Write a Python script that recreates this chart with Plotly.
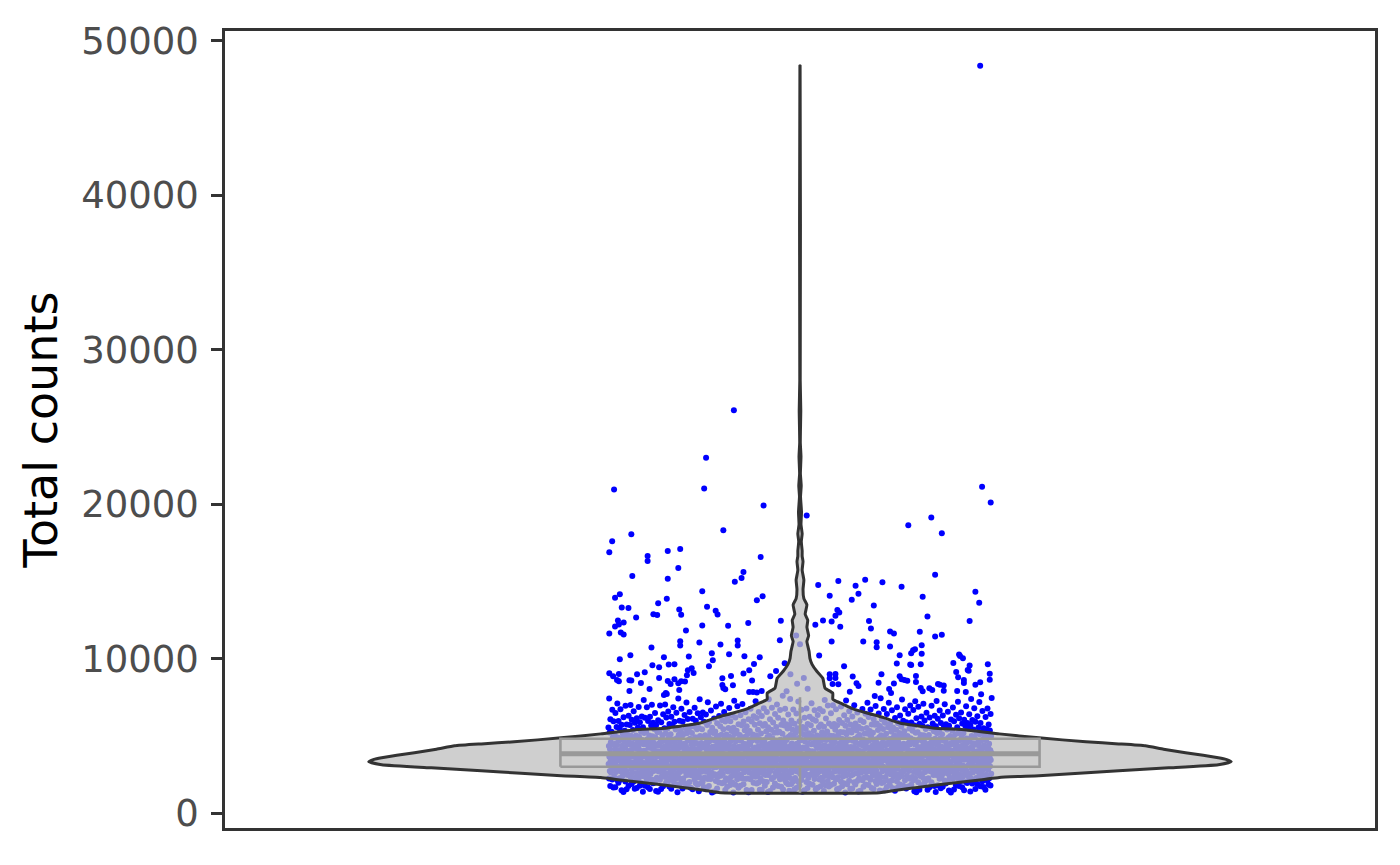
import plotly.graph_objects as go

# ---------------- data ----------------
# y axis
y_tick_vals = [0, 10000, 20000, 30000, 40000, 50000]
y_tick_labels = ["0", "10000", "20000", "30000", "40000", "50000"]
axis_title = "Total counts"

# box-plot summary statistics
box_q1 = 3020
box_median = 3860
box_q3 = 4830
box_lower = 1340
box_upper = 7520

# violin outline: counts level and relative density (peak = 1)
violin_counts = [1340, 1480, 1700, 1930, 2200, 2330, 2445, 2600, 2767, 2950, 3153, 3346, 3500, 3604,
                 3760, 3925, 4150, 4376, 4500, 4633, 4890, 5148, 5405, 5534, 5856, 6200, 6500, 6800,
                 7080, 7300, 7400, 7786, 8110, 8750, 9200, 9650, 10040, 10500, 11133, 11500, 12050,
                 12500, 12900, 13500, 13900, 14500, 15100, 15750, 16300, 16650, 17000, 17600, 18100,
                 18700, 19500, 20500, 21200, 22000, 23100, 24000, 26100, 28000, 48390]
violin_density = [0.185, 0.219, 0.277, 0.346, 0.427, 0.462, 0.554, 0.647, 0.739, 0.855, 0.970, 1.000,
                  0.988, 0.970, 0.935, 0.894, 0.843, 0.801, 0.739, 0.663, 0.554, 0.462, 0.386, 0.307,
                  0.231, 0.194, 0.155, 0.120, 0.099, 0.081, 0.076, 0.076, 0.058, 0.053, 0.039, 0.028,
                  0.023, 0.021, 0.016, 0.020, 0.016, 0.018, 0.012, 0.016, 0.009, 0.007, 0.009, 0.005,
                  0.007, 0.005, 0.005, 0.003, 0.005, 0.0023, 0.0035, 0.0012, 0.0028, 0.0009, 0.0023,
                  0.0007, 0.0018, 0.0005, 0.0002]

# isolated high cells: (horizontal jitter, total counts)
high_points = [
    (0.188, 48390), (-0.069, 26100), (-0.098, 23020), (-0.100, 21030), (0.190, 21150), (0.199, 20130),
    (-0.194, 20960), (-0.038, 19930), (0.007, 19290), (0.113, 18650), (0.137, 19160), (0.148, 18140),
    (-0.080, 18330), (-0.176, 18070), (-0.196, 17620), (-0.199, 16910), (-0.159, 16660), (-0.159, 16340),
    (-0.138, 16980), (-0.125, 17110), (-0.127, 15890), (-0.041, 16590), (-0.138, 15180), (-0.175, 15370),
    (-0.059, 15630), (-0.061, 15240), (-0.068, 14990), (0.141, 15440), (0.106, 14670), (0.068, 15120),
    (0.086, 14960), (0.058, 14730), (0.061, 14220), (0.040, 15050), (0.019, 14790), (0.031, 14090),
    (0.054, 13830), (0.077, 13450), (0.128, 14020), (0.183, 14350), (0.187, 13640), (-0.102, 14380),
    (-0.188, 14190), (-0.193, 13960), (-0.148, 13610), (-0.139, 13900), (-0.186, 13320), (-0.179, 13290),
    (-0.097, 13380), (-0.088, 13120), (-0.086, 12870), (-0.153, 12890), (-0.149, 12840), (-0.171, 12680),
    (-0.126, 13190), (-0.124, 12860), (-0.045, 13800), (-0.039, 14050), (-0.190, 12480), (-0.193, 12100),
    (-0.189, 12230), (-0.184, 12350), (-0.199, 11650), (-0.187, 11710), (-0.184, 11580), (-0.119, 11840),
    (-0.102, 12160), (-0.075, 12140), (-0.054, 12330), (-0.020, 12470), (0.016, 12210), (0.024, 12490),
    (0.033, 12420), (0.037, 12800), (0.039, 13170), (0.041, 13000), (0.042, 12080), (0.072, 12450),
    (0.074, 11970), (0.133, 12740), (0.141, 11450), (0.148, 11560), (0.177, 12460), (0.094, 11780),
    (0.098, 11640), (0.125, 11760), (0.066, 11130), (0.080, 11070), (0.080, 10750), (0.094, 10810),
    (0.104, 10230), (0.116, 10360), (0.118, 10560), (0.120, 10620), (0.127, 10880), (0.127, 10340),
    (0.126, 9660), (0.115, 9640), (0.033, 11120), (0.020, 10220), (-0.021, 11200), (-0.065, 11190),
    (-0.065, 10870), (-0.083, 10940), (-0.074, 10300), (-0.058, 10170), (-0.042, 10100), (-0.092, 10370),
    (-0.105, 11060), (-0.125, 11140), (-0.125, 10860), (-0.116, 10160), (-0.155, 10740), (-0.142, 10110),
    (-0.177, 10240), (-0.188, 9980), (-0.095, 9530), (-0.091, 9910), (-0.113, 9400), (-0.117, 9270),
    (-0.111, 9080), (-0.131, 9650), (-0.137, 9630), (-0.154, 9590), (-0.147, 9460), (-0.170, 9010),
    (-0.162, 9140), (-0.199, 9070), (-0.195, 8880), (-0.189, 9020), (-0.191, 8630), (-0.189, 8560),
    (-0.178, 8620), (-0.176, 8600), (-0.166, 8440), (-0.157, 8050), (-0.178, 7920), (-0.138, 8570),
    (-0.131, 8690), (-0.147, 8760), (-0.135, 8370), (-0.127, 8430), (-0.124, 8550), (-0.120, 8540),
    (-0.126, 7990), (-0.140, 7790), (-0.139, 7730), (-0.142, 7660), (-0.118, 8950), (-0.081, 8750),
    (-0.081, 8310), (-0.080, 8110), (-0.078, 8040), (-0.072, 8890), (-0.070, 8300), (-0.059, 9060),
    (-0.053, 9260), (-0.048, 9670), (-0.050, 8610), (-0.053, 7860), (-0.049, 7850), (-0.045, 7830),
    (-0.040, 7930), (-0.031, 8870), (-0.025, 9210), (-0.016, 9720), (0.031, 9000), (0.037, 9030),
    (0.031, 8740), (0.037, 8770), (0.046, 9520), (0.034, 8380), (0.040, 8360), (0.052, 7870),
    (0.059, 8420), (0.061, 8240), (0.055, 8860), (0.078, 7600), (0.085, 9010), (0.082, 8450),
    (0.093, 8060), (0.095, 7800), (0.098, 8410), (0.101, 9710), (0.104, 8880), (0.106, 8680),
    (0.109, 8640), (0.112, 8590), (0.116, 9600), (0.121, 8900), (0.121, 8500), (0.128, 7910),
    (0.126, 8120), (0.138, 7980), (0.144, 8370), (0.146, 8320), (0.150, 8280), (0.150, 7940),
    (0.160, 9730), (0.166, 10290), (0.167, 10180), (0.170, 10040), (0.163, 9150), (0.165, 8820),
    (0.171, 8630), (0.171, 8440), (0.175, 9280), (0.176, 9240), (0.177, 9580), (0.183, 8330),
    (0.188, 8490), (0.189, 7720), (0.173, 7860), (0.164, 7920), (0.196, 9660), (0.198, 9040),
    (0.198, 8650), (0.200, 7470), (0.135, 8100), (-0.004, 11520), (0.000, 10950), (-0.010, 9000),
    (0.004, 8760), (-0.003, 8390), (-0.014, 7900), (0.008, 8070), (-0.018, 7610),
]

# the dense bulk of cells (total counts), grouped by thousands
counts_1k = [1352, 1431, 1378, 1469, 1395, 1488, 1347, 1412, 1456, 1364, 1440, 1391, 1497, 1423, 1359, 1476, 1405, 1448,
             1622, 1514, 1703, 1571, 1668, 1538, 1729, 1597, 1645, 1509, 1689, 1556, 1741, 1610, 1527, 1677, 1589, 1715,
             1633, 1545, 1696, 1503, 1658, 1582, 1736, 1619, 1530, 1684, 1563, 1722, 1604, 1541, 1650, 1575, 1710, 1518,
             1873, 1762, 1948, 1816, 1991, 1789, 1904, 1838, 1967, 1756, 1925, 1851, 1794, 1982, 1869, 1771, 1937, 1826,
             1958, 1803, 1889, 1752, 1915, 1845, 1976, 1781, 1897, 1833, 1944, 1768, 1861, 1997, 1812, 1929, 1776, 1880,
             1953, 1821, 1908, 1786, 1971, 1856, 1934, 1798, 1886,
             1361, 1444, 1387, 1472, 1419, 1356, 1493, 1402, 1465, 1374, 1528, 1611, 1567, 1694, 1549, 1637, 1581, 1722,
             1506, 1663, 1598, 1747, 1534, 1686, 1615, 1559, 1731, 1642, 1577, 1708, 1788, 1902, 1841, 1967, 1815, 1933,
             1769, 1878, 1995, 1827, 1919, 1758, 1864, 1981, 1806, 1947, 1852, 1774, 1892, 1961]
counts_2k = [2113, 2017, 2204, 2068, 2239, 2145, 2031, 2182, 2096, 2221, 2052, 2160, 2008, 2127, 2247, 2079, 2193, 2040,
             2138, 2215, 2061, 2174, 2023, 2105, 2231, 2087, 2152, 2003, 2198, 2119, 2046, 2243, 2071, 2168, 2029, 2211,
             2134, 2091, 2185, 2012, 2226, 2058, 2149, 2101, 2236, 2036, 2177, 2083, 2208, 2124, 2064, 2190, 2019, 2157,
             2245, 2075, 2141,
             2034, 2187, 2109, 2241, 2072, 2156, 2015, 2229, 2123, 2058, 2199, 2088,
             2263, 2412, 2338, 2481, 2297, 2455, 2372, 2318, 2439, 2276, 2497, 2356, 2425,
             2371, 2258, 2446, 2319, 2492, 2284, 2403, 2337, 2469, 2263, 2425, 2352, 2297, 2481, 2386, 2271, 2438, 2325,
             2457, 2304, 2393, 2252, 2415, 2346, 2476, 2281, 2399, 2333, 2444, 2268, 2361, 2497, 2312, 2429, 2276, 2380,
             2453, 2321, 2408, 2288, 2471, 2356, 2434, 2298, 2386, 2255, 2419, 2341, 2487, 2307, 2364, 2462, 2292, 2411,
             2329, 2449, 2274, 2395, 2316, 2478, 2344, 2422, 2261, 2368, 2437, 2301, 2456, 2349, 2484, 2279,
             2617, 2508, 2694, 2562, 2738, 2531, 2659, 2585, 2712, 2503, 2676, 2549, 2629, 2746, 2571, 2521, 2688, 2604,
             2733, 2556, 2641, 2515, 2702, 2593, 2668, 2537, 2724, 2578, 2649, 2511, 2685, 2612, 2741, 2566, 2633, 2527,
             2698, 2589, 2716, 2544, 2655, 2506, 2681, 2598, 2729, 2553, 2623, 2518, 2707, 2574, 2662, 2539, 2748, 2608,
             2672, 2525, 2691, 2581, 2720, 2559, 2646, 2512, 2701, 2595, 2735, 2547, 2627, 2533, 2665, 2576, 2711, 2520,
             2683, 2602, 2744, 2568, 2638, 2541, 2696, 2587, 2726, 2514, 2652, 2560, 2706, 2592, 2673, 2529, 2718, 2583,
             2636, 2549, 2690,
             2863, 2757, 2941, 2812, 2988, 2774, 2905, 2836, 2962, 2751, 2927, 2848, 2795, 2979, 2871, 2766, 2934, 2823,
             2956, 2803, 2889, 2754, 2913, 2842, 2971, 2783, 2897, 2829, 2948, 2762, 2857, 2996, 2815, 2920, 2778, 2884,
             2951, 2819, 2909, 2789, 2967, 2853, 2931, 2799, 2881, 2758, 2916, 2844, 2985, 2806, 2867, 2960, 2792, 2911,
             2831, 2944, 2771, 2893, 2817, 2976, 2846, 2923, 2764, 2869, 2938, 2801, 2955, 2849, 2982, 2779, 2861, 2752,
             2907, 2838, 2964, 2786, 2876, 2993, 2808, 2929, 2769, 2887, 2946, 2826, 2903, 2797, 2972, 2855, 2936, 2781,
             2878, 2759, 2918, 2840, 2989, 2811, 2865, 2958, 2794, 2914, 2834, 2942, 2773, 2899, 2821, 2974, 2851, 2925,
             2768, 2872, 2939, 2804, 2953, 2845]
counts_3k = [3118, 3007, 3194, 3062, 3241, 3029, 3155, 3086, 3212, 3003, 3177, 3098, 3046, 3229, 3121, 3015, 3184, 3073,
             3206, 3053, 3139, 3004, 3163, 3092, 3221, 3033, 3147, 3079, 3198, 3012, 3107, 3246, 3065, 3170, 3028, 3134,
             3201, 3069, 3159, 3039, 3217, 3103, 3181, 3049, 3131, 3008, 3166, 3094, 3235, 3056, 3117, 3210, 3042, 3161,
             3081, 3194, 3021, 3143, 3067, 3226, 3096, 3173, 3014, 3119, 3188, 3051, 3205, 3099, 3232, 3029, 3111, 3002,
             3157, 3088, 3214, 3036, 3126, 3243, 3058, 3179, 3019, 3137, 3196, 3076, 3153, 3047, 3222, 3105, 3186, 3031,
             3128, 3009, 3168, 3090, 3239, 3061, 3115, 3208, 3044, 3164, 3084, 3192, 3023, 3149, 3071, 3224, 3101, 3175,
             3018, 3122, 3189, 3054, 3203, 3095, 3247, 3026, 3141, 3083, 3216, 3011, 3129, 3199, 3063, 3171, 3037, 3145,
             3230, 3075, 3158, 3001, 3113, 3183, 3057,
             3368, 3257, 3444, 3312, 3491, 3279, 3405, 3336, 3462, 3253, 3427, 3348, 3296, 3479, 3371, 3265, 3434, 3323,
             3456, 3303, 3389, 3254, 3413, 3342, 3471, 3283, 3397, 3329, 3448, 3262, 3357, 3496, 3315, 3420, 3278, 3384,
             3451, 3319, 3409, 3289, 3467, 3353, 3431, 3299, 3381, 3258, 3416, 3344, 3485, 3306, 3367, 3460, 3292, 3411,
             3331, 3444, 3271, 3393, 3317, 3476, 3346, 3423, 3264, 3369, 3438, 3301, 3455, 3349, 3482, 3279, 3361, 3252,
             3407, 3338, 3464, 3286, 3376, 3493, 3308, 3429, 3269, 3387, 3446, 3326, 3403, 3297, 3472, 3355, 3436, 3281,
             3378, 3259, 3418, 3340, 3489, 3311, 3365, 3458, 3294, 3414, 3334, 3442, 3273, 3399, 3321, 3474, 3351, 3425,
             3268, 3372, 3439, 3304, 3453, 3345, 3498, 3276, 3391, 3333, 3466, 3261, 3379, 3449, 3313, 3421, 3287, 3395,
             3480, 3325, 3408, 3251, 3363, 3433, 3307, 3459, 3284, 3401, 3337, 3469, 3274, 3383,
             3618, 3507, 3694, 3562, 3741, 3529, 3655, 3586, 3712, 3503, 3677, 3598, 3546, 3729, 3621, 3515, 3684, 3573,
             3706, 3553, 3639, 3504, 3663, 3592, 3721, 3533, 3647, 3579, 3698, 3512, 3607, 3746, 3565, 3670, 3528, 3634,
             3701, 3569, 3659, 3539, 3717, 3603, 3681, 3549, 3631, 3508, 3666, 3594, 3735, 3556, 3617, 3710, 3542, 3661,
             3581, 3694, 3521, 3643, 3567, 3726, 3596, 3673, 3514, 3619, 3688, 3551, 3705, 3599, 3732, 3529, 3611, 3502,
             3657, 3588, 3714, 3536, 3626, 3743, 3558, 3679, 3519, 3637, 3696, 3576, 3653, 3547, 3722, 3605, 3686, 3531,
             3628, 3509, 3668, 3590, 3739, 3561, 3615, 3708, 3544, 3664, 3584, 3692, 3523, 3649, 3571, 3724, 3601, 3675,
             3518, 3622, 3689, 3554, 3703, 3595, 3747, 3526, 3641, 3583, 3716, 3511, 3629, 3699, 3563, 3671, 3537, 3645,
             3730, 3575, 3658, 3501, 3613, 3683, 3557,
             3868, 3757, 3944, 3812, 3991, 3779, 3905, 3836, 3962, 3753, 3927, 3848, 3796, 3979, 3871, 3765, 3934, 3823,
             3956, 3803, 3889, 3754, 3913, 3842, 3971, 3783, 3897, 3829, 3948, 3762, 3857, 3996, 3815, 3920, 3778, 3884,
             3951, 3819, 3909, 3789, 3967, 3853, 3931, 3799, 3881, 3758, 3916, 3844, 3985, 3806, 3867, 3960, 3792, 3911,
             3831, 3944, 3771, 3893, 3817, 3976, 3846, 3923, 3764, 3869, 3938, 3801, 3955, 3849, 3982, 3779, 3861, 3752,
             3907, 3838, 3964, 3786, 3876, 3993, 3808, 3929, 3769, 3887, 3946, 3826, 3903, 3797, 3972, 3855, 3936, 3781,
             3878, 3759, 3918, 3840, 3989, 3811, 3865, 3958, 3794, 3914, 3834, 3942, 3773, 3899, 3821, 3974, 3851, 3925,
             3768, 3872, 3939, 3804, 3953, 3845, 3998, 3776, 3891, 3833, 3966, 3761, 3879, 3949, 3813]
counts_4k = [4118, 4007, 4194, 4062, 4241, 4029, 4155, 4086, 4212, 4003, 4177, 4098, 4046, 4229, 4121, 4015, 4184, 4073,
             4206, 4053, 4139, 4004, 4163, 4092, 4221, 4033, 4147, 4079, 4198, 4012, 4107, 4246, 4065, 4170, 4028, 4134,
             4201, 4069, 4159, 4039, 4217, 4103, 4181, 4049, 4131, 4008, 4166, 4094, 4235, 4056, 4117, 4210, 4042, 4161,
             4081, 4194, 4021, 4143, 4067, 4226, 4096, 4173, 4014, 4119, 4188, 4051, 4205, 4099, 4232, 4029, 4111, 4002,
             4157, 4088, 4214, 4036, 4126, 4243, 4058, 4179, 4019, 4137, 4196, 4076, 4153, 4047, 4222, 4105, 4186, 4031,
             4128, 4009, 4168, 4090, 4239, 4061, 4115, 4208, 4044, 4164, 4084, 4192, 4023, 4149, 4071, 4224, 4101, 4175,
             4018, 4122, 4189, 4054, 4203, 4095, 4247, 4026, 4141, 4083, 4216,
             4368, 4257, 4444, 4312, 4491, 4279, 4405, 4336, 4462, 4253, 4427, 4348, 4296, 4479, 4371, 4265, 4434, 4323,
             4456, 4303, 4389, 4254, 4413, 4342, 4471, 4283, 4397, 4329, 4448, 4262, 4357, 4496, 4315, 4420, 4278, 4384,
             4451, 4319, 4409, 4289, 4467, 4353, 4431, 4299, 4381, 4258, 4416, 4344, 4485, 4306, 4367, 4460, 4292, 4411,
             4331, 4444, 4271, 4393, 4317, 4476, 4346, 4423, 4264, 4369, 4438, 4301, 4455, 4349, 4482, 4279, 4361, 4252,
             4407, 4338, 4464, 4286, 4376, 4493, 4308, 4429, 4269, 4387, 4446, 4326, 4403, 4297, 4472, 4355, 4436, 4281,
             4378, 4259, 4418, 4340, 4489, 4311, 4365, 4458, 4294, 4414, 4334, 4442, 4273, 4399, 4321, 4474, 4351, 4425,
             4268,
             4617, 4508, 4694, 4562, 4738, 4531, 4659, 4585, 4712, 4503, 4676, 4549, 4629, 4746, 4571, 4521, 4688, 4604,
             4733, 4556, 4641, 4515, 4702, 4593, 4668, 4537, 4724, 4578, 4649, 4511, 4685, 4612, 4741, 4566, 4633, 4527,
             4698, 4589, 4716, 4544, 4655, 4506, 4681, 4598, 4729, 4553, 4623, 4518, 4707, 4574, 4662, 4539, 4748, 4608,
             4672, 4525, 4691, 4581, 4720, 4559, 4646, 4512, 4701, 4595, 4735, 4547, 4627, 4533, 4665, 4576, 4711, 4520,
             4683, 4602, 4744, 4568, 4638, 4541, 4696, 4587, 4726, 4514, 4652, 4560, 4706, 4592, 4673, 4529, 4718, 4583,
             4636, 4549, 4690, 4505,
             4863, 4757, 4941, 4812, 4988, 4774, 4905, 4836, 4962, 4751, 4927, 4848, 4795, 4979, 4871, 4766, 4934, 4823,
             4956, 4803, 4889, 4754, 4913, 4842, 4971, 4783, 4897, 4829, 4948, 4762, 4857, 4996, 4815, 4920, 4778, 4884,
             4951, 4819, 4909, 4789, 4967, 4853, 4931, 4799, 4881, 4758, 4916, 4844, 4985, 4806, 4867, 4960, 4792, 4911,
             4831, 4944, 4771, 4893, 4817, 4976, 4846, 4923, 4764, 4869, 4938, 4801, 4955, 4849, 4982, 4779, 4861, 4752,
             4907, 4838, 4964, 4786, 4876, 4993, 4808, 4929]
counts_5k = [5118, 5007, 5194, 5062, 5241, 5029, 5155, 5086, 5212, 5003, 5177, 5098, 5046, 5229, 5121, 5015, 5184, 5073,
             5206, 5053, 5139, 5004, 5163, 5092, 5221, 5033, 5147, 5079, 5198, 5012, 5107, 5246, 5065, 5170, 5028, 5134,
             5201, 5069, 5159, 5039, 5217, 5103, 5181, 5049, 5131, 5008, 5166, 5094, 5235, 5056, 5117, 5210, 5042, 5161,
             5081, 5194, 5021, 5143, 5067, 5226, 5096, 5173, 5014, 5119, 5188, 5051, 5205, 5099,
             5368, 5257, 5444, 5312, 5491, 5279, 5405, 5336, 5462, 5253, 5427, 5348, 5296, 5479, 5371, 5265, 5434, 5323,
             5456, 5303, 5389, 5254, 5413, 5342, 5471, 5283, 5397, 5329, 5448, 5262, 5357, 5496, 5315, 5420, 5278, 5384,
             5451, 5319, 5409, 5289, 5467, 5353, 5431, 5299, 5381, 5258, 5416, 5344, 5485, 5306, 5367, 5460, 5292, 5411,
             5331, 5444, 5271,
             5618, 5507, 5694, 5562, 5741, 5529, 5655, 5586, 5712, 5503, 5677, 5598, 5546, 5729, 5621, 5515, 5684, 5573,
             5706, 5553, 5639, 5504, 5663, 5592, 5721, 5533, 5647, 5579, 5698, 5512, 5607, 5746, 5565, 5670, 5528, 5634,
             5701, 5569, 5659, 5539, 5717, 5603,
             5524, 5688, 5571, 5742, 5613, 5538, 5667, 5592, 5719, 5556, 5641, 5511, 5703, 5627, 5583, 5735,
             5868, 5757, 5944, 5812, 5991, 5779, 5905, 5836, 5962, 5753, 5927, 5848, 5796, 5979, 5871, 5765, 5934, 5823,
             5956, 5803, 5889, 5754, 5913, 5842, 5971, 5783, 5897, 5829, 5948, 5762, 5857, 5996, 5815,
             5771, 5902, 5818, 5967, 5849, 5759, 5931, 5883, 5794, 5988, 5826, 5915, 5766, 5958, 5872, 5807, 5941, 5859,
             5783]
counts_6k = [6118, 6007, 6194, 6062, 6241, 6029, 6155, 6086, 6212, 6003, 6177, 6098, 6046, 6229, 6121, 6015, 6184, 6073,
             6206, 6053, 6139, 6004, 6163, 6092, 6221, 6033, 6147, 6079, 6198,
             6023, 6171, 6088, 6236, 6051, 6129, 6207, 6012, 6152, 6094, 6218, 6067,
             6368, 6257, 6444, 6312, 6491, 6279, 6405, 6336, 6462, 6253, 6427, 6348, 6296, 6479, 6371, 6265, 6434, 6323,
             6456, 6303, 6389, 6254, 6413, 6342,
             6281, 6437, 6352, 6489, 6318, 6402, 6266, 6471, 6335, 6424,
             6617, 6508, 6694, 6562, 6738, 6531, 6659, 6585, 6712, 6503, 6676, 6549, 6629, 6746, 6571, 6521, 6688, 6604,
             6733, 6556,
             6527, 6681, 6593, 6742, 6558, 6709, 6612, 6536, 6667, 6724,
             6863, 6757, 6941, 6812, 6988, 6774, 6905, 6836, 6962, 6751, 6927, 6848, 6795, 6979, 6871, 6766,
             6788, 6912, 6843, 6975, 6769, 6884, 6951, 6817, 6933, 6758, 6868, 6992, 6801]
counts_7k = [7118, 7007, 7194, 7062, 7241, 7029, 7155, 7086, 7212, 7003, 7177, 7098, 7046,
             7021, 7163, 7091, 7228, 7137, 7052,
             7368, 7257, 7444, 7312, 7391, 7279, 7405, 7336, 7452,
             7284, 7411, 7347, 7436, 7263, 7392]

# ---------------- styling ----------------
CENTER = 1.0
JITTER_HALF = 0.2
VIOLIN_HALF = 0.45
BOX_WIDTH = 0.5
POINT_COLOR = "#0000FF"
POINT_SIZE = 6
BOX_COLOR = "#999999"
FONT = "DejaVu Sans"
PAGE_PAD = 8  # browser default body margin

bulk_counts = counts_1k + counts_2k + counts_3k + counts_4k + counts_5k + counts_6k + counts_7k
# deterministic spread of the bulk across the jitter band (golden-ratio sequence)
PHI = 0.6180339887498949
bulk_x = [CENTER + 2 * JITTER_HALF * (((i + 1) * PHI) % 1.0) - JITTER_HALF for i in range(len(bulk_counts))]

high_jitter = [p[0] for p in high_points]
high_counts = [p[1] for p in high_points]
high_x = [CENTER + j for j in high_jitter]

fig = go.Figure()

# points (drawn first, under the violin)
fig.add_trace(go.Scatter(
    x=bulk_x + high_x, y=bulk_counts + high_counts, mode="markers",
    marker=dict(color=POINT_COLOR, size=POINT_SIZE, line=dict(width=0)),
    hoverinfo="skip", showlegend=False))

# violin outline from the density profile
left_x = [CENTER - VIOLIN_HALF * d for d in violin_density]
right_x = [CENTER + VIOLIN_HALF * d for d in violin_density]
vx = left_x + right_x[::-1] + [left_x[0]]
vy = violin_counts + violin_counts[::-1] + [violin_counts[0]]
fig.add_trace(go.Scatter(
    x=vx, y=vy, mode="lines", fill="toself",
    fillcolor="rgba(190,190,190,0.74)",
    line=dict(color="#333333", width=3, shape="spline", smoothing=0.4),
    hoverinfo="skip", showlegend=False))

# box plot drawn from the summary statistics (on top of the violin)
bl, br = CENTER - BOX_WIDTH / 2, CENTER + BOX_WIDTH / 2
fig.add_trace(go.Scatter(
    x=[bl, br, br, bl, bl, None, CENTER, CENTER, None, CENTER, CENTER],
    y=[box_q1, box_q1, box_q3, box_q3, box_q1, None, box_q3, box_upper, None, box_q1, box_lower],
    mode="lines", line=dict(color=BOX_COLOR, width=2.6),
    hoverinfo="skip", showlegend=False))
fig.add_trace(go.Scatter(
    x=[bl, br], y=[box_median, box_median],
    mode="lines", line=dict(color=BOX_COLOR, width=5.2),
    hoverinfo="skip", showlegend=False))

fig.update_layout(
    width=1400 - PAGE_PAD, height=865 - PAGE_PAD,
    margin=dict(l=225 - PAGE_PAD, r=25, t=25 - PAGE_PAD, b=37),
    plot_bgcolor="white", paper_bgcolor="white",
    showlegend=False,
    font=dict(family=FONT),
    xaxis=dict(range=[0.4, 1.6], showticklabels=False, ticks="", showgrid=False,
               zeroline=False, showline=True, mirror=True, linecolor="#333333", linewidth=2.5),
    yaxis=dict(range=[-945, 50642], tickmode="array", tickvals=y_tick_vals, ticktext=y_tick_labels,
               ticks="outside", ticklen=11, tickwidth=3, tickcolor="#333333",
               ticklabelstandoff=5,
               tickfont=dict(family=FONT, size=37, color="#4D4D4D"),
               showgrid=False, zeroline=False, showline=True, mirror=True,
               linecolor="#333333", linewidth=2.5,
               title=dict(text=axis_title, font=dict(family=FONT, size=46, color="black"), standoff=10)),
)

fig.write_html("out.html", config={"displayModeBar": False})
